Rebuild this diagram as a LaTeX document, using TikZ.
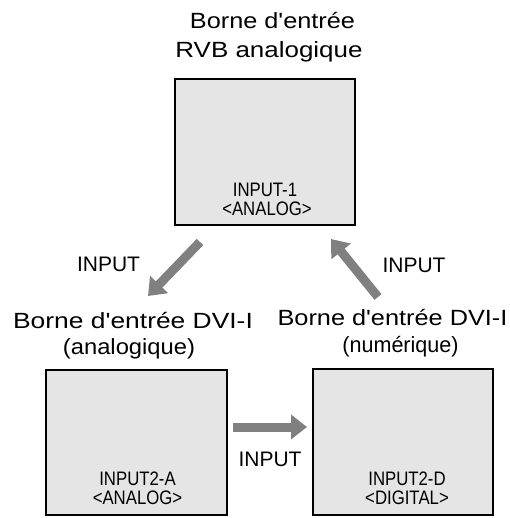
\documentclass[tikz,border=0pt]{standalone}
\usepackage{fontspec}
\setmainfont{Liberation Sans}
\usetikzlibrary{arrows.meta}
\definecolor{boxfill}{HTML}{E5E5E5}
\definecolor{arrowgray}{HTML}{808080}
\newcommand{\sx}[2]{\scalebox{#1}[1]{#2}}
\newcommand{\ap}{\textquotesingle}
\begin{document}
\begin{tikzpicture}[x=1pt,y=-1pt,
  screen/.style={draw=black, line width=1.6pt, fill=boxfill, inner sep=0pt},
  title/.style={font=\fontsize{22}{26}\selectfont, anchor=base, inner sep=0pt},
  lbl/.style={font=\fontsize{19.5}{23}\selectfont, anchor=base, inner sep=0pt},
  inp/.style={font=\fontsize{21}{25}\selectfont, anchor=base, inner sep=0pt},
  bigarrow/.style={draw=arrowgray, line width=9pt, -{Triangle[length=16pt,width=24pt]}}]
\useasboundingbox (0,0) rectangle (509,518);
% screens
\node[screen, minimum width=180pt, minimum height=146pt] (top) at (265,152) {};
\node[screen, minimum width=181pt, minimum height=145pt] (left) at (136.5,442.5) {};
\node[screen, minimum width=180pt, minimum height=146pt] (right) at (403,442) {};
% titles
\node[title] (t1a) at (272.5,28.3) {\sx{1.15}{Borne d\ap entrée}};
\node[title] (t1b) at (269,58) {\sx{1.18}{RVB analogique}};
\node[title] (t2a) at (133,328) {\sx{1.2}{Borne d\ap entrée DVI-I}};
\node[title] (t2b) at (129,354) {\sx{1.08}{(analogique)}};
\node[title] (t3a) at (392.5,325) {\sx{1.15}{Borne d\ap entrée DVI-I}};
\node[title] (t3b) at (400.5,352) {\sx{0.98}{(numérique)}};
% inner labels
\node[lbl] (l1a) at (265,196.7) {\sx{0.86}{INPUT-1}};
\node[lbl] (l1b) at (267,215) {\sx{0.86}{<ANALOG>}};
\node[lbl] (l2a) at (137.5,485) {\sx{0.86}{INPUT2-A}};
\node[lbl] (l2b) at (137.5,504) {\sx{0.86}{<ANALOG>}};
\node[lbl] (l3a) at (407,485) {\sx{0.86}{INPUT2-D}};
\node[lbl] (l3b) at (407,504) {\sx{0.86}{<DIGITAL>}};
% INPUT labels
\node[inp] (i1) at (108.5,271.7) {INPUT};
\node[inp] (i2) at (414,272.7) {INPUT};
\node[inp] (i3) at (270,466.7) {INPUT};
% arrows
\coordinate (a1s) at (200,242); \coordinate (a1e) at (148,296);
\coordinate (a2s) at (378,297); \coordinate (a2e) at (331,239);
\coordinate (a3s) at (233,427); \coordinate (a3e) at (307,427);
\draw[bigarrow] (a1s) -- (a1e);
\draw[bigarrow] (a2s) -- (a2e);
\draw[bigarrow] (a3s) -- (a3e);
\end{tikzpicture}
\end{document}
